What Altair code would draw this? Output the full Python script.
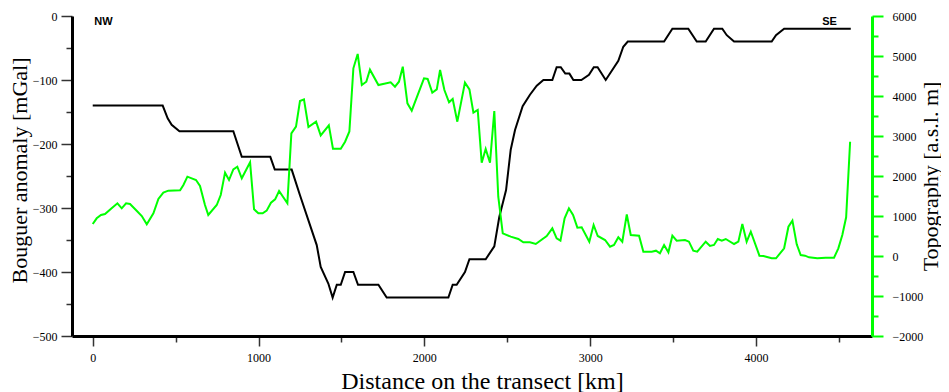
import altair as alt
import pandas as pd

# Bouguer anomaly profile (km, mGal)
bouguer_km = [0, 422, 452, 476, 523, 848, 899, 1071, 1098, 1200, 1250, 1351, 1375, 1421, 1447,
              1472, 1496, 1522, 1572, 1600, 1723, 1773, 2145, 2171, 2195, 2245, 2272, 2370, 2422,
              2452, 2493, 2521, 2547, 2593, 2637, 2678, 2718, 2772, 2798, 2823, 2850, 2875, 2899,
              2947, 2993, 3022, 3045, 3094, 3170, 3200, 3227, 3446, 3496, 3592, 3643, 3697, 3747,
              3797, 3824, 3868, 4095, 4121, 4170, 4572]
bouguer_mgal = [-140, -140, -160, -170, -180, -180, -220, -220, -240, -240, -280, -358, -392, -418,
                -440, -420, -420, -400, -400, -420, -420, -440, -440, -420, -420, -400, -380, -380,
                -360, -314, -272, -209, -178, -141, -123, -109, -100, -100, -80, -80, -90, -90,
                -100, -100, -92, -80, -80, -100, -70, -48, -40, -40, -20, -20, -40, -40, -20, -20,
                -30, -40, -40, -30, -20, -20]

# Topography profile (km, m a.s.l.)
topo_km = [0, 24, 50, 74, 114, 149, 175, 201, 225, 265, 296, 326, 366, 396, 426, 456, 527, 547,
           571, 623, 647, 677, 697, 748, 772, 798, 822, 848, 872, 899, 949, 973, 999, 1025, 1049,
           1075, 1100, 1124, 1174, 1198, 1226, 1250, 1274, 1301, 1347, 1375, 1424, 1449, 1496,
           1522, 1548, 1572, 1598, 1623, 1650, 1672, 1723, 1797, 1823, 1847, 1870, 1898, 1924,
           1998, 2020, 2048, 2075, 2095, 2121, 2149, 2171, 2199, 2245, 2272, 2296, 2322, 2346,
           2370, 2396, 2422, 2446, 2473, 2521, 2567, 2597, 2637, 2672, 2738, 2772, 2798, 2821,
           2846, 2872, 2897, 2923, 2949, 2995, 3021, 3046, 3090, 3120, 3144, 3170, 3194, 3221,
           3245, 3295, 3321, 3372, 3397, 3421, 3446, 3472, 3496, 3522, 3572, 3596, 3622, 3646,
           3697, 3723, 3747, 3770, 3794, 3818, 3868, 3894, 3918, 3944, 3969, 4021, 4045, 4095,
           4121, 4170, 4196, 4220, 4246, 4270, 4296, 4320, 4370, 4421, 4471, 4497, 4521, 4544,
           4568]
topo_m = [800, 942, 1025, 1050, 1192, 1317, 1192, 1317, 1300, 1133, 1000, 792, 1067, 1425, 1583,
          1633, 1642, 1775, 1983, 1900, 1750, 1275, 1025, 1275, 1525, 2083, 1900, 2167, 2233, 1942,
          2342, 1167, 1067, 1067, 1133, 1333, 1417, 1625, 1317, 3067, 3233, 3875, 3917, 3225, 3358,
          3015, 3265, 2683, 2683, 2858, 3115, 4692, 5050, 4275, 4358, 4658, 4275, 4342, 4233, 4358,
          4733, 3817, 3633, 4442, 4425, 4083, 4167, 4650, 4150, 3842, 3925, 3358, 4333, 4167, 3583,
          3650, 2333, 2675, 2333, 3625, 1483, 567, 483, 425, 342, 342, 300, 500, 692, 442, 383,
          942, 1192, 1025, 708, 717, 358, 775, 500, 400, 233, 275, 467, 358, 1042, 525, 508, 108,
          108, 133, 67, 275, 92, 508, 383, 400, 358, 133, 108, 358, 250, 275, 425, 383, 425, 300,
          358, 800, 358, 608, 8, 0, -58, -58, 192, 733, 883, 292, 25, 8, -33, -58, -42, -42, 192,
          525, 967, 2858]

# Direction labels
dir_text = ["NW", "SE"]
dir_km = [65, 4444]
dir_mgal = [-9, -9]

x_ticks = list(range(0, 4501, 500))
left_ticks = list(range(-500, 1, 50))
right_ticks = list(range(-2000, 6001, 500))

GREEN = "#00ff00"
SERIF = "Liberation Serif"

bdf = pd.DataFrame({"km": bouguer_km, "mgal": bouguer_mgal})
tdf = pd.DataFrame({"km": topo_km, "topo": topo_m})
ldf = pd.DataFrame({"km": dir_km, "mgal": dir_mgal, "txt": dir_text})

xscale = alt.Scale(domain=[-125, 4700], nice=False, zero=False)

common = dict(
    format="d",
    labelFont=SERIF,
    labelFontSize=12,
    labelColor="black",
    titleFont=SERIF,
    titleFontWeight="normal",
    titleColor="black",
    grid=False,
    titleAlign="center",
    titleBaseline="middle",
)

x_axis = alt.Axis(
    title="Distance on the transect [km]",
    values=x_ticks,
    labelExpr="datum.value % 1000 === 0 ? datum.label : ''",
    tickSize={"condition": {"test": "datum.value % 1000 === 0", "value": 10}, "value": 6},
    tickColor="#333333",
    tickWidth=1.5,
    domainColor="black",
    domainWidth=3,
    labelPadding=6,
    titleFontSize=24,
    titleX=410,
    titleY=45,
    **common,
)

left_axis = alt.Axis(
    title="Bouguer anomaly [mGal]",
    values=left_ticks,
    labelExpr="datum.value % 100 === 0 ? datum.label : ''",
    tickSize={"condition": {"test": "datum.value % 100 === 0", "value": 11}, "value": 6},
    tickColor="#333333",
    tickWidth=1.5,
    domainColor="black",
    domainWidth=3,
    labelPadding=4,
    orient="left",
    titleFontSize=22,
    titleAngle=270,
    titleX=-53,
    titleY=154,
    **common,
)

right_axis = alt.Axis(
    title="Topography [a.s.l. m]",
    values=right_ticks,
    labelExpr="datum.value % 1000 === 0 ? datum.label : ''",
    tickSize={"condition": {"test": "datum.value % 1000 === 0", "value": 11}, "value": 6},
    tickColor=GREEN,
    tickWidth=2,
    domainColor=GREEN,
    domainWidth=3,
    labelPadding=9,
    labelAlign="left",
    orient="right",
    titleFontSize=22,
    titleAngle=270,
    titleX=58,
    titleY=160,
    **common,
)

black = alt.Chart(bdf).mark_line(color="black", strokeWidth=2).encode(
    x=alt.X("km:Q", scale=xscale, axis=x_axis),
    y=alt.Y("mgal:Q", scale=alt.Scale(domain=[-500, 0], nice=False), axis=left_axis),
)

green = alt.Chart(tdf).mark_line(color=GREEN, strokeWidth=2).encode(
    x=alt.X("km:Q", scale=xscale),
    y=alt.Y("topo:Q", scale=alt.Scale(domain=[-2000, 6000], nice=False), axis=right_axis),
)

labels = alt.Chart(ldf).mark_text(
    font="Liberation Sans", fontWeight="bold", fontSize=11, color="black", baseline="middle"
).encode(
    x=alt.X("km:Q", scale=xscale),
    y=alt.Y("mgal:Q", scale=alt.Scale(domain=[-500, 0], nice=False), axis=None),
    text="txt:N",
)

chart = alt.layer(black, green, labels).resolve_scale(y="independent").properties(
    width=800,
    height=320,
    padding={"left": 64, "top": 8, "right": 69, "bottom": 56},
    autosize=alt.AutoSizeParams(type="none"),
).configure_view(strokeWidth=0)

chart.save("out.html", embed_options={"renderer": "svg", "actions": False})
